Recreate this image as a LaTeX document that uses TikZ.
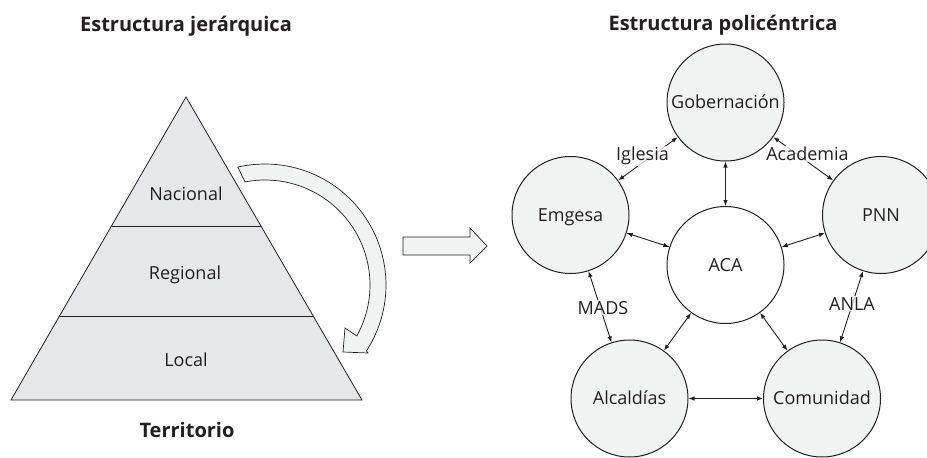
\documentclass[tikz,border=0pt]{standalone}
\usepackage{fontspec}
\setmainfont{Open Sans}
\usetikzlibrary{arrows.meta,calc}
\definecolor{ink}{HTML}{231F20}
\definecolor{pyrfill}{HTML}{E6E7E8}
\definecolor{circfill}{HTML}{F1F2F2}
\begin{document}
\begin{tikzpicture}[x=1pt,y=-1pt,
  ent/.style={circle,draw=ink,line width=1pt,fill=circfill,minimum size=117pt,inner sep=0pt,
    font=\fontsize{18}{21}\selectfont,text=ink,text height=12.9pt,text depth=0pt},
  lvl/.style={font=\fontsize{18}{21}\selectfont,text=ink,inner sep=0pt,text height=12.9pt,text depth=0pt},
  ttl/.style={font=\bfseries\fontsize{20}{24}\selectfont,text=ink,inner sep=0pt,anchor=base},
  lab/.style={font=\fontsize{18}{21}\selectfont,text=ink,fill=white,fill opacity=0.75,text opacity=1,inner sep=1pt,anchor=base},
  conn/.style={{Latex[length=6pt,width=4.5pt]}-{Latex[length=6pt,width=4.5pt]},line width=0.9pt,draw=ink},
  blk/.style={draw=ink,line width=0.7pt,fill=circfill,line join=miter}]
\useasboundingbox (0,0) rectangle (927,458);

% titles
\node[ttl] (t1) at (186,31) {Estructura jerárquica};
\node[ttl] (t2) at (723,30) {Estructura policéntrica};
\node[ttl] (t3) at (187,437) {Territorio};

% pyramid
\coordinate (apex) at (186,97);
\coordinate (bl) at (11,400);
\coordinate (br) at (362,400);
\filldraw[fill=pyrfill,draw=ink,line width=0.8pt] (apex) -- (br) -- (bl) -- cycle;
\draw[ink,line width=0.8pt] ($(apex)!0.4257!(bl)$) -- ($(apex)!0.4257!(br)$);
\draw[ink,line width=0.8pt] ($(apex)!0.7228!(bl)$) -- ($(apex)!0.7228!(br)$);
\node[lvl] (nac) at (186,194) {Nacional};
\node[lvl] (reg) at (185,273) {Regional};
\node[lvl] (loc) at (186,360) {Local};

% curved block arrow
\filldraw[blk] plot[domain=-103:33,samples=60] ({265+121*cos(\x)},{285+121*sin(\x)})
  -- (368,353) -- (343,352) -- (345,328)
  -- plot[domain=29:-101,samples=60] ({265+105*cos(\x)},{285+105*sin(\x)}) -- cycle;

% straight block arrow
\filldraw[blk] (403,237) -- (470,237) -- (470,228) -- (487,246) -- (470,263) -- (470,255) -- (403,255) -- cycle;

% polycentric network
\node[ent] (gob) at (725.5,102.5) {Gobernación};
\node[ent] (emg) at (570.5,215) {Emgesa};
\node[ent] (pnn) at (881,215) {PNN};
\node[ent,fill=white] (aca) at (725.5,265) {ACA};
\node[ent] (alc) at (629.5,398.5) {Alcaldías};
\node[ent] (com) at (822,398.5) {Comunidad};

\draw[conn] (gob) -- (emg);
\draw[conn] (gob) -- (pnn);
\draw[conn] (gob) -- (aca);
\draw[conn] (emg) -- (aca);
\draw[conn] (pnn) -- (aca);
\draw[conn] (emg) -- (alc);
\draw[conn] (pnn) -- (com);
\draw[conn] (aca) -- (alc);
\draw[conn] (aca) -- (com);
\draw[conn] (alc) -- (com);

\node[lab] (lig) at (642.5,160.5) {Iglesia};
\node[lab] (lac) at (807.5,160.5) {Academia};
\node[lab] (lma) at (603,314) {MADS};
\node[lab] (lan) at (852,310) {ANLA};
\end{tikzpicture}
\end{document}
